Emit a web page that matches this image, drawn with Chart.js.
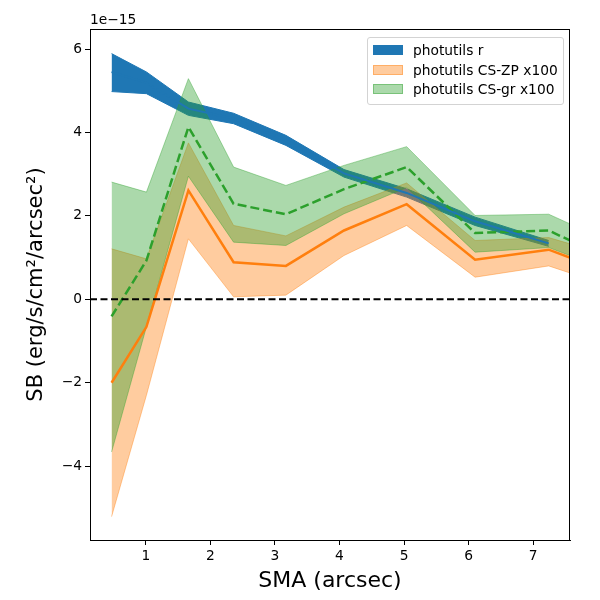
<!DOCTYPE html>
<html>
<head>
<meta charset="utf-8">
<script src="https://cdn.jsdelivr.net/npm/chart.js@4.4.0/dist/chart.umd.min.js"></script>
<style>
  html, body { margin: 0; padding: 0; background: #fff; }
  #wrap { position: relative; width: 600px; height: 600px; }
  #legend {
    position: absolute; left: 367px; top: 37px; width: 197px; height: 68px;
    box-sizing: border-box; border: 1px solid #d3d3d3; border-radius: 3px;
    background: rgba(255,255,255,0.8);
    font-family: "DejaVu Sans"; font-size: 13.8px; color: #000;
  }
  .row { position: absolute; left: 5px; height: 20px; display: flex; align-items: center; white-space: nowrap; }
  .patch { width: 30px; height: 10px; margin-right: 10px; box-sizing: border-box; border: 1px solid; }
</style>
</head>
<body>
<div id="wrap">
  <canvas id="sbChart" width="600" height="600"></canvas>
  <div id="legend"></div>
</div>
<script>
// semi-major axis (arcsec); last point lies past the right edge of the axes
var sma = [0.47, 1.01, 1.66, 2.36, 3.17, 4.07, 5.04, 6.10, 7.24, 8.45];

// photutils r profile (units of 1e-15)
var rSma  = [0.47, 1.01, 1.66, 2.36, 3.17, 4.07, 5.04, 6.10, 7.24];
var rMid  = [5.45, 5.19, 4.57, 4.33, 3.81, 3.02, 2.55, 1.87, 1.34];
var rHigh = [5.89, 5.45, 4.73, 4.46, 3.93, 3.11, 2.65, 1.97, 1.41];
var rLow  = [4.98, 4.93, 4.41, 4.21, 3.69, 2.93, 2.45, 1.77, 1.27];

// photutils CS-ZP x100
var zpMid  = [-2.00, -0.66, 2.61, 0.89, 0.80, 1.65, 2.28, 0.95, 1.19, 0.49];
var zpHigh = [ 1.21,  0.97, 3.75, 1.77, 1.52, 2.21, 2.79, 1.41, 1.48, 0.93];
var zpLow  = [-5.21, -2.30, 1.45, 0.06, 0.10, 1.05, 1.77, 0.53, 0.80, 0.18];

// photutils CS-gr x100
var grMid  = [-0.41, 0.93, 4.13, 2.29, 2.04, 2.64, 3.17, 1.59, 1.65, 0.77];
var grHigh = [ 2.81, 2.57, 5.29, 3.17, 2.73, 3.21, 3.66, 2.01, 2.04, 1.19];
var grLow  = [-3.66, -0.66, 2.95, 1.37, 1.29, 2.05, 2.68, 1.13, 1.24, 0.54];

var xTicks = [1, 2, 3, 4, 5, 6, 7];
var yTicks = [-4, -2, 0, 2, 4, 6];
var xMin = 0.136, xMax = 7.57;
var yMin = -5.77, yMax = 6.48;

var legendLabels = ['photutils r', 'photutils CS-ZP x100', 'photutils CS-gr x100'];

var BLUE = '#1f77b4';
var ORANGE = '#ff7f0e';
var GREEN = '#2ca02c';
var ORANGE_A = 'rgba(255,127,14,0.4)';
var GREEN_A = 'rgba(44,160,44,0.4)';
var FONT = 'DejaVu Sans';

function pts(xs, ys) {
  return xs.map(function (x, i) { return { x: x, y: ys[i] }; });
}

function band(data, color, fillTo, order) {
  return {
    data: data, borderColor: color, backgroundColor: color, borderWidth: 1,
    fill: fillTo === null ? false : fillTo, order: order, pointRadius: 0
  };
}

var datasets = [
  band(pts(rSma, rHigh), BLUE, 1, 10),
  band(pts(rSma, rLow), BLUE, null, 10),
  band(pts(sma, zpHigh), ORANGE_A, 3, 9),
  band(pts(sma, zpLow), ORANGE_A, null, 9),
  band(pts(sma, grHigh), GREEN_A, 5, 8),
  band(pts(sma, grLow), GREEN_A, null, 8),
  { data: pts(sma, zpMid), borderColor: ORANGE, borderWidth: 2.5, fill: false, order: 5, pointRadius: 0 },
  { data: pts(sma, grMid), borderColor: GREEN, borderWidth: 2.5, borderDash: [9, 4], fill: false, order: 4, pointRadius: 0 },
  { data: pts(rSma, rMid), borderColor: BLUE, borderWidth: 2, fill: false, order: 3, pointRadius: 0 },
  { data: [{ x: xMin, y: 0 }, { x: xMax, y: 0 }], borderColor: '#000', borderWidth: 2, borderDash: [7, 3.5], fill: false, order: 2, pointRadius: 0 }
];

// full frame + the 1e-15 offset text
var framePlugin = {
  id: 'frame',
  afterDraw: function (chart) {
    var a = chart.chartArea, ctx = chart.ctx;
    ctx.save();
    ctx.strokeStyle = '#000';
    ctx.lineWidth = 1;
    ctx.strokeRect(a.left + 0.5, a.top + 0.5, a.right - a.left - 1, a.bottom - a.top);
    ctx.fillStyle = '#000';
    ctx.font = '13.8px "' + FONT + '"';
    ctx.textBaseline = 'bottom';
    ctx.textAlign = 'left';
    ctx.fillText('1e\u221215', a.left, a.top - 2);
    ctx.restore();
  }
};

Chart.defaults.font.family = FONT;
Chart.defaults.color = '#000';

var chart = new Chart(document.getElementById('sbChart'), {
  type: 'line',
  data: { datasets: datasets },
  options: {
    responsive: false,
    devicePixelRatio: 1,
    animation: false,
    layout: { padding: { top: 29, right: 30, left: 0, bottom: 0 } },
    plugins: { legend: { display: false }, tooltip: { enabled: false } },
    scales: {
      x: {
        type: 'linear', min: xMin, max: xMax,
        afterBuildTicks: function (s) { s.ticks = xTicks.map(function (v) { return { value: v }; }); },
        afterFit: function (s) { s.height = 60; },
        grid: { drawOnChartArea: false, drawTicks: true, tickLength: 5, color: '#000' },
        border: { display: true, color: '#000', width: 1 },
        ticks: { font: { size: 13.8 }, color: '#000', padding: 3, maxRotation: 0, autoSkip: false },
        title: { display: true, text: 'SMA (arcsec)', font: { size: 22 }, color: '#000', padding: { top: 0, bottom: 6 } }
      },
      y: {
        type: 'linear', min: yMin, max: yMax,
        afterBuildTicks: function (s) { s.ticks = yTicks.map(function (v) { return { value: v }; }); },
        afterFit: function (s) { s.width = 90; },
        grid: { drawOnChartArea: false, drawTicks: true, tickLength: 5, color: '#000' },
        border: { display: true, color: '#000', width: 1 },
        ticks: {
          font: { size: 13.8 }, color: '#000', padding: 3, autoSkip: false,
          callback: function (v) { return String(v).replace('-', '\u2212'); }
        },
        title: { display: true, text: 'SB (erg/s/cm\u00b2/arcsec\u00b2)', font: { size: 21 }, color: '#000', padding: { top: 24, bottom: 0 } }
      }
    }
  },
  plugins: [framePlugin]
});

// legend box inside the axes, upper right
var legendStyles = [
  { bg: BLUE, border: BLUE },
  { bg: ORANGE_A, border: ORANGE_A },
  { bg: GREEN_A, border: GREEN_A }
];
var rowTops = [2, 22, 41];
var legend = document.getElementById('legend');
legendLabels.forEach(function (label, i) {
  var row = document.createElement('div');
  row.className = 'row';
  row.style.top = rowTops[i] + 'px';
  var patch = document.createElement('span');
  patch.className = 'patch';
  patch.style.background = legendStyles[i].bg;
  patch.style.borderColor = legendStyles[i].border;
  var txt = document.createElement('span');
  txt.textContent = label;
  row.appendChild(patch);
  row.appendChild(txt);
  legend.appendChild(row);
});
</script>
</body>
</html>
